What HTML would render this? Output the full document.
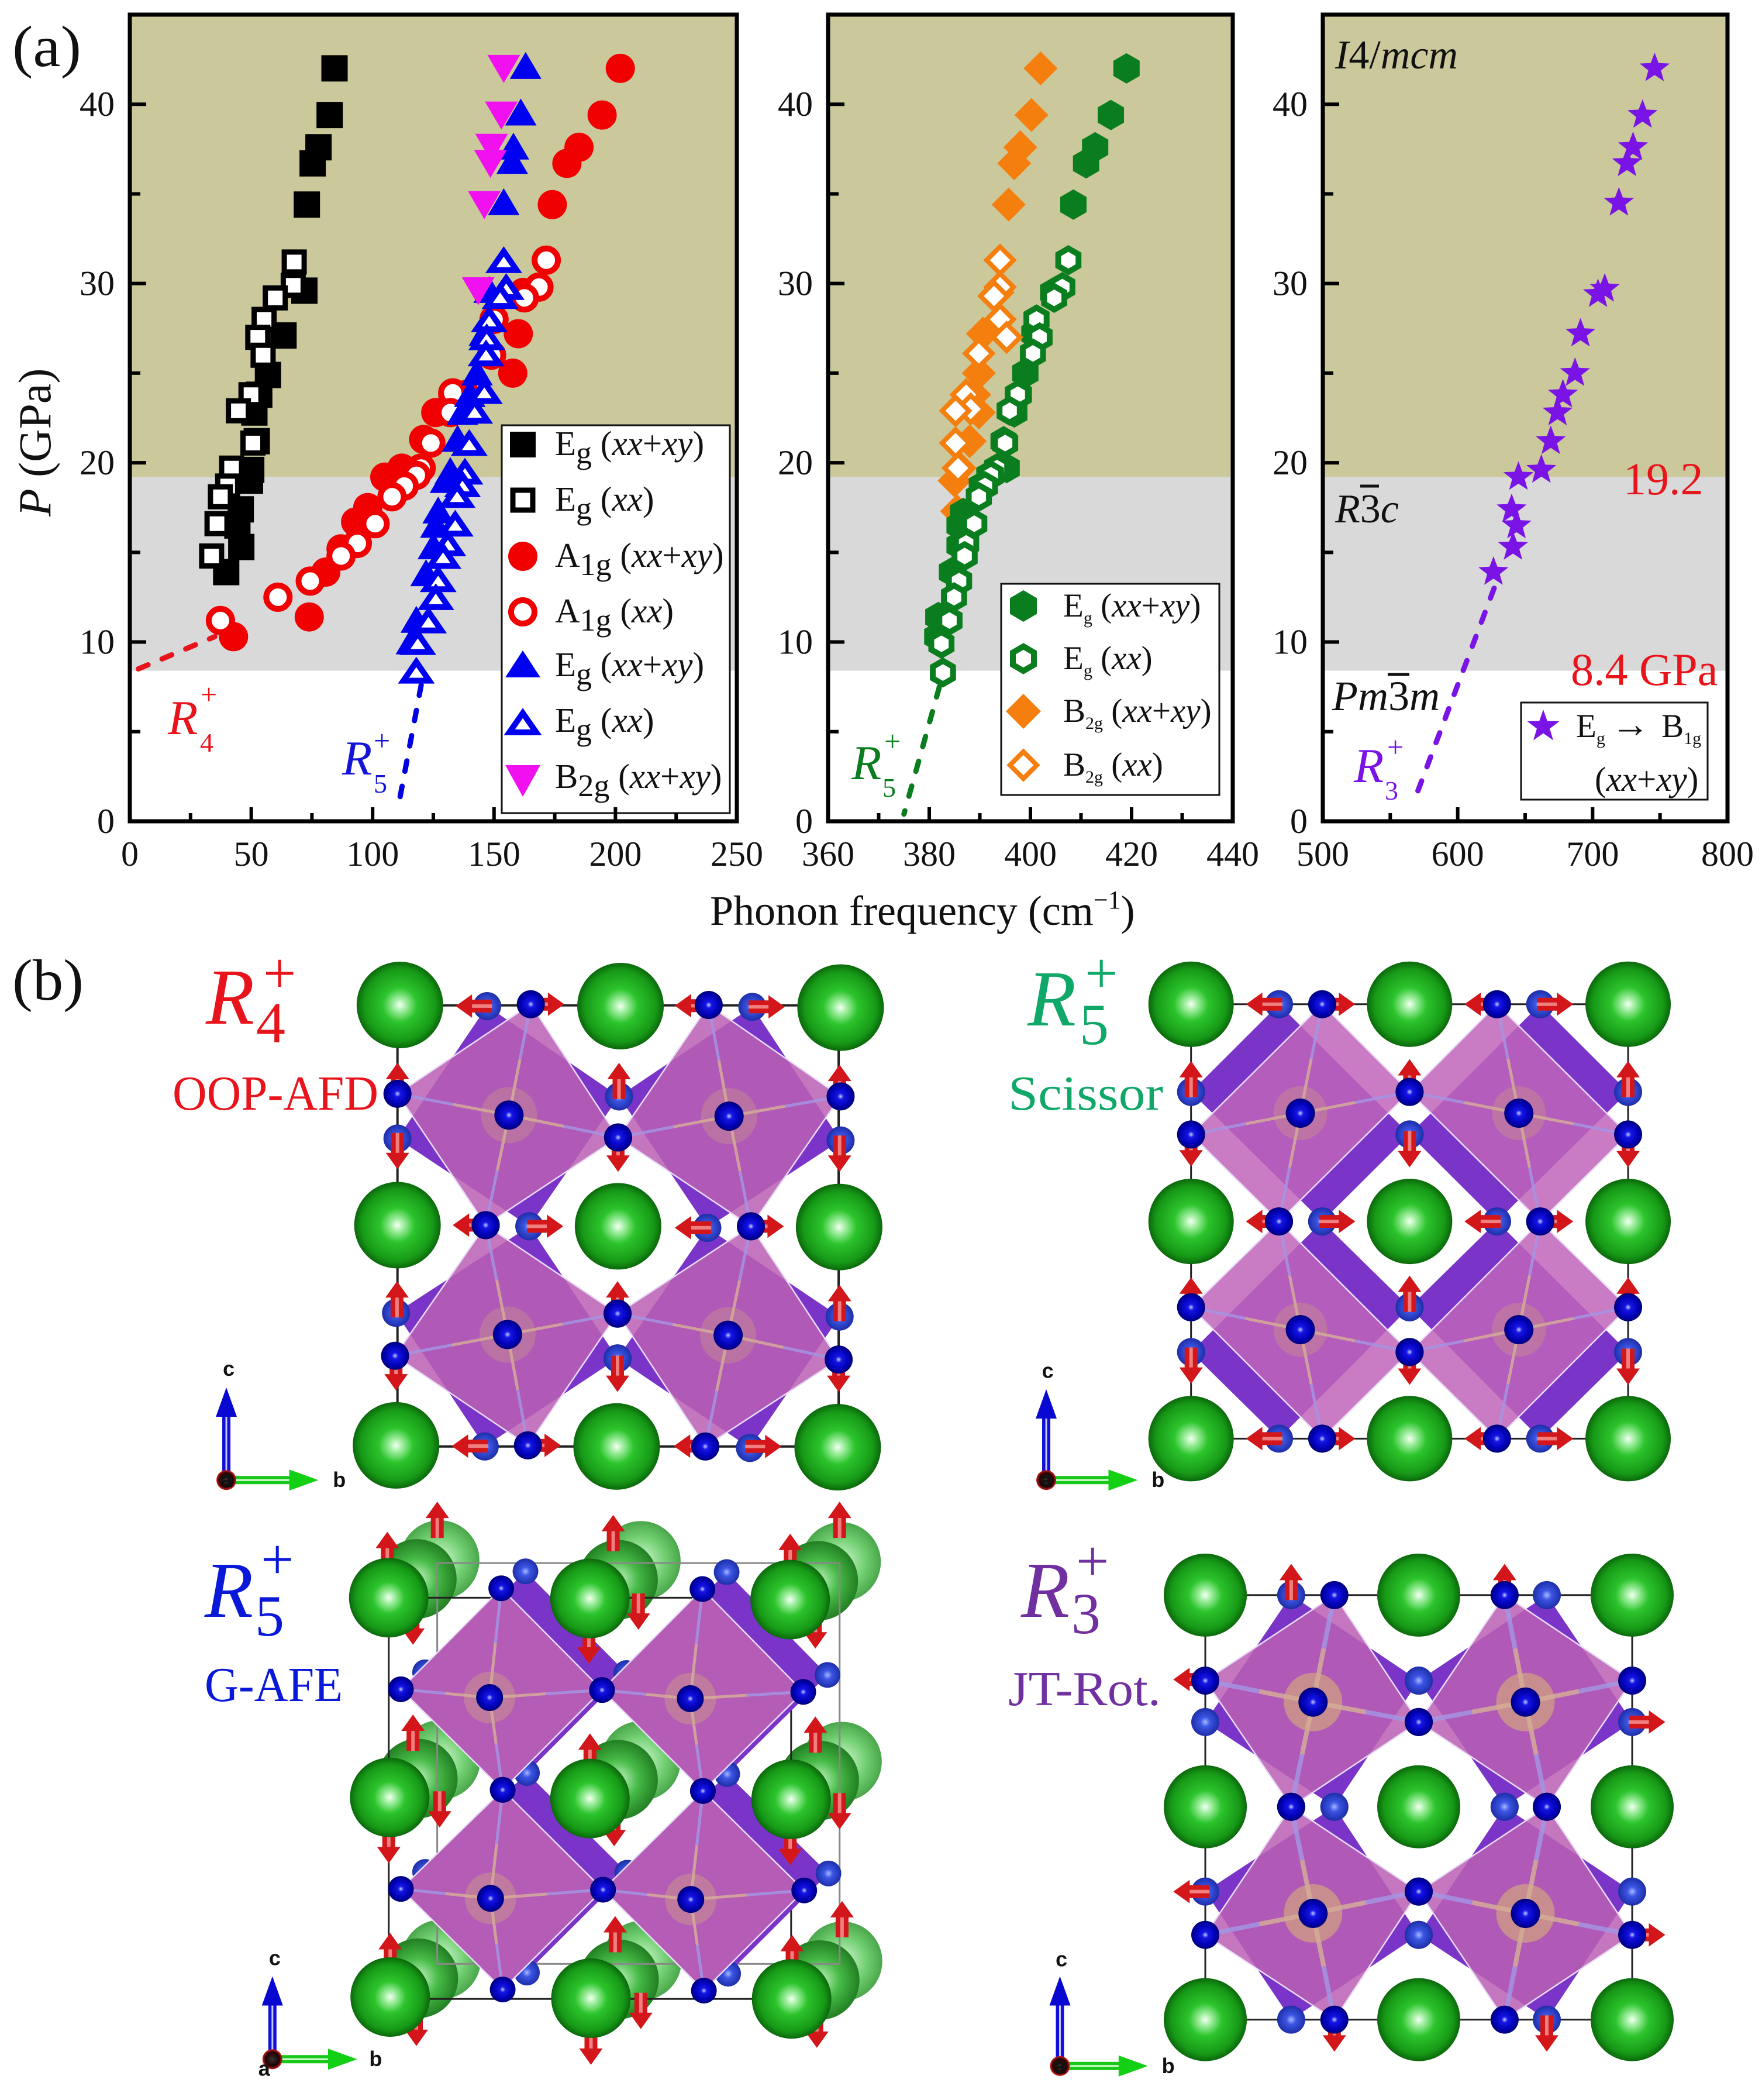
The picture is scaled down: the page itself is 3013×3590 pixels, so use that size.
<!DOCTYPE html>
<html lang="en">
<head>
<meta charset="utf-8">
<title>Phonon frequency vs pressure and lattice distortion modes</title>
<style>
html,body{margin:0;padding:0;background:#fff;width:3013px;height:3590px;overflow:hidden}
svg{display:block}
text{font-family:"Liberation Serif","DejaVu Serif",serif}
.tick{font-size:60px;fill:#111}
.leg{font-size:59px;fill:#111}
.leg2{font-size:57px;fill:#111}
.it{font-style:italic}
.sans{font-family:"Liberation Sans",sans-serif;font-weight:bold;font-size:36px;fill:#111}
</style>
</head>
<body>
<svg id="root" width="3013" height="3590" viewBox="0 0 3013 3590">
<defs>
<radialGradient id="gGreen"><stop offset="0" stop-color="#f6fff6"/><stop offset=".14" stop-color="#a4f0a4"/><stop offset=".4" stop-color="#2cc42c"/><stop offset=".82" stop-color="#179a17"/><stop offset="1" stop-color="#0b680b"/></radialGradient>
<radialGradient id="gGreenMid"><stop offset="0" stop-color="#c8f5c8"/><stop offset=".5" stop-color="#47bb47"/><stop offset="1" stop-color="#227f22"/></radialGradient>
<radialGradient id="gGreenBack"><stop offset="0" stop-color="#d8f8d8"/><stop offset=".6" stop-color="#72d072"/><stop offset="1" stop-color="#4aa64a"/></radialGradient>
<radialGradient id="gBlue"><stop offset="0" stop-color="#c0ccff"/><stop offset=".22" stop-color="#1515e6"/><stop offset=".72" stop-color="#0000b4"/><stop offset="1" stop-color="#000078"/></radialGradient>
<radialGradient id="gBlueLight"><stop offset="0" stop-color="#a8b8ff"/><stop offset=".35" stop-color="#3b55e4"/><stop offset="1" stop-color="#1e2ea8"/></radialGradient>
<radialGradient id="gRed"><stop offset="0" stop-color="#333"/><stop offset=".7" stop-color="#200"/><stop offset="1" stop-color="#d02020"/></radialGradient>
</defs>

<!-- PANEL (a) layers -->
<g id="p1bands"></g>
<g id="p2bands"></g>
<g id="p3bands"></g>
<g id="p1marks"></g>
<g id="p2marks"></g>
<g id="p3marks"></g>

<!-- Legend panel 1 -->
<g>
<rect x="858" y="727" width="390" height="663" fill="#fff" stroke="#111" stroke-width="3"/>
<g>
<rect x="872" y="738" width="44" height="44" fill="#000"/>
<text class="leg" x="949" y="778">E<tspan font-size="54" dy="14">g</tspan><tspan dy="-14"> (</tspan><tspan class="it">xx</tspan>+<tspan class="it">xy</tspan>)</text></g>
<g>
<rect x="877" y="838" width="34" height="34" fill="#fff" stroke="#000" stroke-width="9"/>
<text class="leg" x="949" y="873">E<tspan font-size="54" dy="14">g</tspan><tspan dy="-14"> (</tspan><tspan class="it">xx</tspan>)</text></g>
<g>
<circle cx="894" cy="951" r="25" fill="#f00000"/>
<text class="leg" x="949" y="969">A<tspan font-size="54" dy="14">1g</tspan><tspan dy="-14"> (</tspan><tspan class="it">xx</tspan>+<tspan class="it">xy</tspan>)</text></g>
<g>
<circle cx="894" cy="1046" r="20" fill="#fff" stroke="#f00000" stroke-width="10"/>
<text class="leg" x="949" y="1064">A<tspan font-size="54" dy="14">1g</tspan><tspan dy="-14"> (</tspan><tspan class="it">xx</tspan>)</text></g>
<g>
<path d="M894 1112L924 1158H864Z" fill="#0000f0"/>
<text class="leg" x="949" y="1156">E<tspan font-size="54" dy="14">g</tspan><tspan dy="-14"> (</tspan><tspan class="it">xx</tspan>+<tspan class="it">xy</tspan>)</text></g>
<g>
<path d="M894 1219L917 1252H871Z" fill="#fff" stroke="#0000f0" stroke-width="10"/>
<text class="leg" x="949" y="1251">E<tspan font-size="54" dy="14">g</tspan><tspan dy="-14"> (</tspan><tspan class="it">xx</tspan>)</text></g>
<g>
<path d="M864 1308H924L894 1362Z" fill="#f010f0"/>
<text class="leg" x="949" y="1347">B<tspan font-size="54" dy="14">2g</tspan><tspan dy="-14"> (</tspan><tspan class="it">xx</tspan>+<tspan class="it">xy</tspan>)</text></g>
</g>

<!-- Legend panel 2 -->
<g>
<rect x="1712" y="998" width="373" height="361" fill="#fff" stroke="#111" stroke-width="3"/>
<g>
<path d="M1750 1009L1773 1022.500L1773 1049.500L1750 1063L1727 1049.500L1727 1022.500Z" fill="#0a7d1e"/>
<text class="leg2" x="1818" y="1054">E<tspan font-size="30" dy="12">g</tspan><tspan dy="-12"> (</tspan><tspan class="it">xx</tspan>+<tspan class="it">xy</tspan>)</text></g>
<g>
<path d="M1750 1105L1768 1115.500L1768 1136.500L1750 1147L1732 1136.500L1732 1115.500Z" fill="#fff" stroke="#0a7d1e" stroke-width="10"/>
<text class="leg2" x="1818" y="1144">E<tspan font-size="30" dy="12">g</tspan><tspan dy="-12"> (</tspan><tspan class="it">xx</tspan>)</text></g>
<g>
<path d="M1750 1186L1780 1216L1750 1246L1720 1216Z" fill="#f57f0e"/>
<text class="leg2" x="1818" y="1234">B<tspan font-size="30" dy="12">2g</tspan><tspan dy="-12"> (</tspan><tspan class="it">xx</tspan>+<tspan class="it">xy</tspan>)</text></g>
<g>
<path d="M1750 1285L1773 1308L1750 1331L1727 1308Z" fill="#fff" stroke="#f57f0e" stroke-width="8"/>
<text class="leg2" x="1818" y="1326">B<tspan font-size="30" dy="12">2g</tspan><tspan dy="-12"> (</tspan><tspan class="it">xx</tspan>)</text></g>
</g>

<!-- Legend panel 3 -->
<g>
<rect x="2601" y="1201" width="319" height="166" fill="#fff" stroke="#111" stroke-width="3"/>
<path d="M2639 1213L2645.800 1232.600L2666.600 1233L2650 1245.600L2656 1265.500L2639 1253.600L2622 1265.500L2628 1245.600L2611.400 1233L2632.200 1232.600Z" fill="#7a14e6"/>
<text class="leg2" x="2695" y="1260">E<tspan font-size="30" dy="12">g</tspan><tspan dy="-12" dx="10" font-size="66">→</tspan><tspan dx="6"> B</tspan><tspan font-size="30" dy="12">1g</tspan></text>
<text class="leg2" x="2727" y="1352" style="font-size:59px">(<tspan class="it">xx</tspan>+<tspan class="it">xy</tspan>)</text>
</g>

<g id="p1axis"></g>
<g id="p2axis"></g>
<g id="p3axis"></g>

<!-- Titles and annotations -->
<text x="21" y="113" font-size="100" fill="#111" textLength="118" lengthAdjust="spacingAndGlyphs">(a)</text>
<text x="21" y="1709" font-size="100" fill="#111" textLength="122" lengthAdjust="spacingAndGlyphs">(b)</text>
<text transform="translate(86,883) rotate(-90)" font-size="78" fill="#111"><tspan class="it">P</tspan> (GPa)</text>
<text x="1214" y="1581" font-size="72" fill="#111">Phonon frequency (cm<tspan font-size="44" dy="-28">−1</tspan><tspan dy="28">)</tspan></text>

<g fill="#e8141c">
<text x="287" y="1255" font-size="84" class="it">R</text><text x="343" y="1204" font-size="50">+</text><text x="342" y="1285" font-size="46">4</text></g>
<g fill="#1414d8">
<text x="585" y="1324" font-size="84" class="it">R</text><text x="639" y="1283" font-size="50">+</text><text x="639" y="1355" font-size="46">5</text></g>
<g fill="#0a7d1e">
<text x="1456" y="1332" font-size="84" class="it">R</text><text x="1512" y="1284" font-size="50">+</text><text x="1509" y="1362" font-size="46">5</text></g>
<g fill="#7a14e6">
<text x="2315" y="1337" font-size="84" class="it">R</text><text x="2372" y="1294" font-size="50">+</text><text x="2368" y="1367" font-size="46">3</text></g>

<text x="2283" y="117" font-size="70" fill="#111"><tspan class="it">I</tspan>4/<tspan class="it">mcm</tspan></text>
<g>
<text x="2283" y="893" font-size="70" fill="#111"><tspan class="it">R</tspan>3<tspan class="it">c</tspan></text>
<line x1="2326" x2="2358" y1="831" y2="831" stroke="#111" stroke-width="5"/></g>
<g>
<text x="2278" y="1214" font-size="72" fill="#111"><tspan class="it">Pm</tspan>3<tspan class="it">m</tspan></text>
<line x1="2373" x2="2410" y1="1153" y2="1153" stroke="#111" stroke-width="5"/></g>
<text x="2776" y="845" font-size="78" fill="#e8141c">19.2</text>
<text x="2686" y="1171" font-size="78" fill="#e8141c">8.4 GPa</text>

<!-- PANEL (b) crystals -->
<g id="crystalA"></g>
<g id="crystalB"></g>
<g id="crystalC"></g>
<g id="crystalD"></g>

<g fill="#e8141c">
<text x="352" y="1750" font-size="136" class="it" textLength="80">R</text><text x="450" y="1697" font-size="100">+</text><text x="438" y="1782" font-size="100">4</text></g>
<text x="295" y="1897" font-size="84" fill="#e8141c" textLength="352" lengthAdjust="spacingAndGlyphs">OOP-AFD</text>
<g fill="#10a868">
<text x="1757" y="1753" font-size="136" class="it" textLength="80">R</text><text x="1855" y="1697" font-size="100">+</text><text x="1846" y="1785" font-size="100">5</text></g>
<text x="1724" y="1897" font-size="84" fill="#10a868" textLength="265" lengthAdjust="spacingAndGlyphs">Scissor</text>
<g fill="#0a18d8">
<text x="350" y="2764" font-size="136" class="it" textLength="80">R</text><text x="446" y="2699" font-size="100">+</text><text x="436" y="2796" font-size="100">5</text></g>
<text x="350" y="2908" font-size="84" fill="#0a18d8" textLength="236" lengthAdjust="spacingAndGlyphs">G-AFE</text>
<g fill="#7030a0">
<text x="1746" y="2764" font-size="136" class="it" textLength="80">R</text><text x="1840" y="2702" font-size="100">+</text><text x="1832" y="2792" font-size="100">3</text></g>
<text x="1724" y="2915" font-size="84" fill="#7030a0" textLength="261" lengthAdjust="spacingAndGlyphs">JT-Rot.</text>
</svg>

<script>
/* ---------- chart data ---------- */
const yMajorTicks = [0, 10, 20, 30, 40];
const yMinorTicks = [5, 15, 25, 35];
const p1MajorTicks = [0, 50, 100, 150, 200, 250];
const p1MinorTicks = [25, 75, 125, 175, 225];
const p2MajorTicks = [360, 380, 400, 420, 440];
const p2MinorTicks = [370, 390, 410, 430];
const p3MajorTicks = [500, 600, 700, 800];
const p3MinorTicks = [550, 650, 750];
const phaseBoundaries = [19.2, 8.4];

const egBlackSolidFreq = [84.3, 82.3, 77.7, 75.3, 72.9, 71.9, 63.3, 56.9, 53.3, 51.3, 52.3, 50, 49.5, 45.7, 44.3, 45.9, 39.7];
const egBlackSolidP = [42, 39.4, 37.6, 36.7, 34.4, 29.6, 27.1, 24.9, 23.8, 22.8, 21.2, 19.6, 19, 17.4, 16.5, 15.3, 13.9];
const egBlackOpenFreq = [67.7, 67.3, 59.9, 55.3, 52.7, 54.9, 49.9, 44.7, 50.7, 41.9, 40.3, 37.3, 35.9, 33.7];
const egBlackOpenP = [31.2, 29.9, 29.2, 28, 27, 26, 23.8, 22.9, 21.1, 19.7, 18.7, 18.1, 16.6, 14.8];

const a1gSolidFreq = [202, 194.5, 185, 180, 174, 162, 160, 157.7, 133, 126, 121, 112, 105, 98, 93, 87, 80.7, 73.9, 42.7];
const a1gSolidP = [42, 39.4, 37.6, 36.7, 34.4, 29.5, 27.2, 25, 23.8, 22.8, 21.3, 19.7, 19.2, 17.5, 16.7, 15.2, 13.9, 11.4, 10.3];
const a1gOpenFreq = [171.5, 168.5, 162.5, 150, 149, 138, 133, 132, 124, 120, 118, 113, 108, 101, 93.7, 87, 74.3, 61, 37.3];
const a1gOpenP = [31.3, 29.8, 29.2, 28, 26, 23.8, 23.9, 22.8, 21.1, 19.7, 19.3, 18.7, 18.1, 16.6, 15.5, 14.8, 13.4, 12.5, 11.2];

const egBlueSolidFreq = [163, 161, 158, 157.5, 154, 148, 146, 143, 140, 137, 135, 132, 130, 127, 126, 125, 122, 118, 116];
const egBlueSolidP = [42.1, 39.5, 37.6, 36.8, 34.5, 29.6, 27.2, 25, 23.8, 22.8, 21.3, 19.5, 19, 17.3, 16.5, 15.3, 13.8, 11.2, 10];
const egBlueOpenFreq = [154, 155, 152.5, 148, 147, 146.7, 146, 142, 139.8, 138, 137, 134.8, 134, 131, 129, 127, 126, 123, 118.6, 118];
const egBlueOpenP = [31.3, 29.8, 29.3, 28, 27, 26.1, 24, 22.9, 21.1, 19.5, 18.8, 18.2, 16.6, 15.5, 14.8, 13.5, 12.5, 11.2, 10, 8.4];
const b2gMagentaFreq = [154, 153, 149, 148.5, 146, 143.5];
const b2gMagentaP = [42, 39.4, 37.6, 36.7, 34.4, 29.6];

const egGreenSolidFreq = [419, 415.9, 412.8, 411, 408.5, 404.5, 400.8, 399, 397.7, 396.8, 394.7, 395.3, 391.9, 390.4, 386.7, 386, 386, 384.5, 381.8, 381.6];
const egGreenSolidP = [42, 39.4, 37.6, 36.7, 34.4, 29.5, 27.2, 25, 23.8, 22.8, 21.2, 19.7, 19.3, 18.7, 17.2, 16.5, 15.4, 13.9, 11.4, 10.3];
const egGreenOpenFreq = [407.5, 406.3, 404.7, 401.2, 401.8, 400.5, 397.5, 395.9, 395, 393.4, 392.2, 391, 389.8, 388.9, 387.3, 387, 385.9, 384.9, 384, 382.4, 382.7];
const egGreenOpenP = [31.3, 29.8, 29.2, 28, 27, 26.1, 23.8, 22.9, 21.1, 19.7, 19.3, 18.7, 18.1, 16.6, 15.5, 14.8, 13.4, 12.5, 11.2, 9.9, 8.3];
const b2gOrangeSolidFreq = [402, 400.2, 398, 396.8, 395.7, 393.5, 390.6, 389.8, 388.9, 389.8, 388, 386, 385, 385.5];
const b2gOrangeSolidP = [42, 39.4, 37.6, 36.7, 34.4, 29.5, 27.2, 25, 23.8, 22.8, 21.2, 19.7, 19, 17.3];
const b2gOrangeOpenFreq = [394, 394, 392.8, 394, 395.3, 389.8, 387.3, 388.2, 385.2, 385.2, 385.7];
const b2gOrangeOpenP = [31.3, 29.8, 29.3, 28, 27, 26.1, 23.8, 23, 22.9, 21.1, 19.7];

const starFreq = [746, 737, 730, 725.5, 719.5, 709, 704, 691, 687, 678, 674, 669, 662, 645, 640, 643.6, 641, 626.5];
const starP = [42, 39.4, 37.6, 36.7, 34.5, 29.7, 29.4, 27.2, 25, 23.8, 22.8, 21.2, 19.6, 19.2, 17.4, 16.5, 15.3, 13.9];

const r4DashFreq = [3.5, 35];
const r4DashP = [8.5, 10.3];
const r5BlueDashFreq = [120, 110.8];
const r5BlueDashP = [7.6, 1];
const r5GreenDashFreq = [382, 375];
const r5GreenDashP = [7.5, 0.4];
const r3DashFreq = [627, 567];
const r3DashP = [13, 1];

/* ---------- axis functions ---------- */
const root = document.getElementById('root');
const NS = root.namespaceURI;
const plotTop = 25, plotBottom = 1404, yMax = 45;
function yScale(p) { return plotBottom - (plotBottom - plotTop) * p / yMax; }
function x1(v) { return 222 + (1260 - 222) * (v - 0) / 250; }
function x2(v) { return 1416 + (2108 - 1416) * (v - 360) / 80; }
function x3(v) { return 2262 + (2954 - 2262) * (v - 500) / 300; }

/* marker shapes, centred on the origin */
function hexPath(r) {
  let d = '';
  for (let i = 0; i < 6; i++) {
    const a = Math.PI / 3 * i;
    d += (i ? 'L' : 'M') + (r * Math.sin(a)).toFixed(1) + ' ' + (-r * Math.cos(a)).toFixed(1);
  }
  return d + 'Z';
}
function starPath(R) {
  let d = '';
  for (let i = 0; i < 10; i++) {
    const a = Math.PI / 5 * i;
    const r = i % 2 ? R * 0.42 : R;
    d += (i ? 'L' : 'M') + (r * Math.sin(a)).toFixed(1) + ' ' + (-r * Math.cos(a)).toFixed(1);
  }
  return d + 'Z';
}
const shapes = {
  squareSolid: 'M-22.500 -22.500H22.500V22.500H-22.500Z',
  squareOpen: 'M-17 -17H17V17H-17Z',
  circleSolid: 'M-25 0A25 25 0 1 0 25 0A25 25 0 1 0 -25 0Z',
  circleOpen: 'M-20 0A20 20 0 1 0 20 0A20 20 0 1 0 -20 0Z',
  triSolid: 'M0 -25L27 21H-27Z',
  triOpen: 'M0 -15L22 17H-22Z',
  triDown: 'M-28 -23H28L0 25Z',
  hexSolid: hexPath(26),
  hexOpen: hexPath(20),
  diaSolid: 'M0 -29L29 0L0 29L-29 0Z',
  diaOpen: 'M0 -23L23 0L0 23L-23 0Z',
  star: starPath(27)
};

function drawSeries(parentId, name, freqs, ps, xfn, shape, fill, stroke, sw) {
  const parent = document.getElementById(parentId);
  for (let i = 0; i < freqs.length; i++) {
    const el = document.createElementNS(NS, 'path');
    el.setAttribute('d', shapes[shape]);
    el.setAttribute('transform', 'translate(' + xfn(freqs[i]).toFixed(1) + ',' + yScale(ps[i]).toFixed(1) + ')');
    el.setAttribute('fill', fill);
    if (stroke) {
      el.setAttribute('stroke', stroke);
      el.setAttribute('stroke-width', sw);
      el.setAttribute('stroke-linejoin', 'miter');
    }
    
    
    parent.appendChild(el);
  }
}
function drawDash(parentId, name, freqs, ps, xfn, color) {
  const parent = document.getElementById(parentId);
  const el = document.createElementNS(NS, 'line');
  el.setAttribute('x1', xfn(freqs[0]));
  el.setAttribute('y1', yScale(ps[0]));
  el.setAttribute('x2', xfn(freqs[1]));
  el.setAttribute('y2', yScale(ps[1]));
  el.setAttribute('stroke', color);
  el.setAttribute('stroke-width', 9);
  el.setAttribute('stroke-dasharray', '18 26');
  el.setAttribute('stroke-linecap', 'round');
  
  
  parent.appendChild(el);
}
function drawBands(parentId, left, right) {
  const parent = document.getElementById(parentId);
  const olive = document.createElementNS(NS, 'rect');
  olive.setAttribute('x', left);
  olive.setAttribute('y', plotTop);
  olive.setAttribute('width', right - left);
  olive.setAttribute('height', yScale(phaseBoundaries[0]) - plotTop);
  olive.setAttribute('fill', '#cbc99b');
  
  
  parent.appendChild(olive);
  const grey = document.createElementNS(NS, 'rect');
  grey.setAttribute('x', left);
  grey.setAttribute('y', yScale(phaseBoundaries[0]));
  grey.setAttribute('width', right - left);
  grey.setAttribute('height', yScale(phaseBoundaries[1]) - yScale(phaseBoundaries[0]));
  grey.setAttribute('fill', '#d9d9d9');
  
  
  parent.appendChild(grey);
}
function drawAxes(parentId, left, right, xfn, major, minor) {
  const parent = document.getElementById(parentId);
  function tick(x1_, y1_, x2_, y2_) {
    const t = document.createElementNS(NS, 'line');
    t.setAttribute('x1', x1_);
    t.setAttribute('y1', y1_);
    t.setAttribute('x2', x2_);
    t.setAttribute('y2', y2_);
    t.setAttribute('stroke', '#000');
    t.setAttribute('stroke-width', 6);
    
    
    parent.appendChild(t);
  }
  function label(x, y, str, anchor) {
    const t = document.createElementNS(NS, 'text');
    t.setAttribute('x', x);
    t.setAttribute('y', y);
    t.setAttribute('class', 'tick');
    t.setAttribute('text-anchor', anchor);
    
    
    t.textContent = str;
    parent.appendChild(t);
  }
  yMajorTicks.forEach(function (v) {
    tick(left, yScale(v), left + 28, yScale(v));
    label(left - 26, yScale(v) + 20, String(v), 'end');
  });
  yMinorTicks.forEach(function (v) { tick(left, yScale(v), left + 18, yScale(v)); });
  major.forEach(function (v) {
    tick(xfn(v), plotBottom, xfn(v), plotBottom - 24);
    label(xfn(v), 1480, String(v), 'middle');
  });
  minor.forEach(function (v) { tick(xfn(v), plotBottom, xfn(v), plotBottom - 14); });
  const frame = document.createElementNS(NS, 'rect');
  frame.setAttribute('x', left);
  frame.setAttribute('y', plotTop);
  frame.setAttribute('width', right - left);
  frame.setAttribute('height', plotBottom - plotTop);
  frame.setAttribute('fill', 'none');
  frame.setAttribute('stroke', '#000');
  frame.setAttribute('stroke-width', 7);
  
  
  parent.appendChild(frame);
}

drawBands('p1bands', 222, 1260);
drawBands('p2bands', 1416, 2108);
drawBands('p3bands', 2262, 2954);

drawDash('p1marks', 'r4-dashed-guide', r4DashFreq, r4DashP, x1, '#e8141c');
drawDash('p1marks', 'r5-blue-dashed-guide', r5BlueDashFreq, r5BlueDashP, x1, '#0000e0');
drawDash('p2marks', 'r5-green-dashed-guide', r5GreenDashFreq, r5GreenDashP, x2, '#0a7d1e');
drawDash('p3marks', 'r3-dashed-guide', r3DashFreq, r3DashP, x3, '#7a14e6');

drawSeries('p1marks', 'eg-black-xx-xy', egBlackSolidFreq, egBlackSolidP, x1, 'squareSolid', '#000');
drawSeries('p1marks', 'eg-black-xx', egBlackOpenFreq, egBlackOpenP, x1, 'squareOpen', '#fff', '#000', 9);
drawSeries('p1marks', 'a1g-xx-xy', a1gSolidFreq, a1gSolidP, x1, 'circleSolid', '#f00000');
drawSeries('p1marks', 'a1g-xx', a1gOpenFreq, a1gOpenP, x1, 'circleOpen', '#fff', '#f00000', 10);
drawSeries('p1marks', 'eg-blue-xx-xy', egBlueSolidFreq, egBlueSolidP, x1, 'triSolid', '#0000f0');
drawSeries('p1marks', 'b2g-magenta-xx-xy', b2gMagentaFreq, b2gMagentaP, x1, 'triDown', '#f010f0');
drawSeries('p1marks', 'eg-blue-xx', egBlueOpenFreq, egBlueOpenP, x1, 'triOpen', '#fff', '#0000f0', 10);

drawSeries('p2marks', 'b2g-orange-xx-xy', b2gOrangeSolidFreq, b2gOrangeSolidP, x2, 'diaSolid', '#f57f0e');
drawSeries('p2marks', 'eg-green-xx-xy', egGreenSolidFreq, egGreenSolidP, x2, 'hexSolid', '#0a7d1e');
drawSeries('p2marks', 'eg-green-xx', egGreenOpenFreq, egGreenOpenP, x2, 'hexOpen', '#fff', '#0a7d1e', 10);
drawSeries('p2marks', 'b2g-orange-xx', b2gOrangeOpenFreq, b2gOrangeOpenP, x2, 'diaOpen', '#fff', '#f57f0e', 8);

drawSeries('p3marks', 'eg-to-b1g-star', starFreq, starP, x3, 'star', '#7a14e6');

drawAxes('p1axis', 222, 1260, x1, p1MajorTicks, p1MinorTicks);
drawAxes('p2axis', 1416, 2108, x2, p2MajorTicks, p2MinorTicks);
drawAxes('p3axis', 2262, 2954, x3, p3MajorTicks, p3MinorTicks);

/* ---------- crystal structure drawings ---------- */
function buildCrystal(cfg) {
  const host = document.getElementById(cfg.id);
  const X = function (v) { return cfg.ox + cfg.sx * v; };
  const Y = function (v) { return cfg.oy + cfg.sy * v; };
  const pts = function (list) { return list.map(function (p) { return X(p[0]).toFixed(1) + ',' + Y(p[1]).toFixed(1); }).join(' '); };

  function atom(p, r, grad, opacity) {
    const el = document.createElementNS(NS, 'circle');
    el.setAttribute('cx', X(p[0]));
    el.setAttribute('cy', Y(p[1]));
    el.setAttribute('r', r);
    el.setAttribute('fill', 'url(#' + grad + ')');
    if (opacity) el.setAttribute('opacity', opacity);
    
    
    host.appendChild(el);
  }
  function cell(a, b, color, w) {
    const el = document.createElementNS(NS, 'rect');
    el.setAttribute('x', X(a[0]));
    el.setAttribute('y', Y(a[1]));
    el.setAttribute('width', X(b[0]) - X(a[0]));
    el.setAttribute('height', Y(b[1]) - Y(a[1]));
    el.setAttribute('fill', 'none');
    el.setAttribute('stroke', color);
    el.setAttribute('stroke-width', w);
    
    
    host.appendChild(el);
  }
  function octa(list, fill, opacity, edge) {
    const el = document.createElementNS(NS, 'polygon');
    el.setAttribute('points', pts(list));
    el.setAttribute('fill', fill);
    el.setAttribute('fill-opacity', opacity);
    if (edge) {
      el.setAttribute('stroke', '#e8dcf8');
      el.setAttribute('stroke-width', 2.500);
    }
    
    
    host.appendChild(el);
  }
  function bond(c, v, w) {
    const mx = (c[0] + v[0]) / 2, my = (c[1] + v[1]) / 2;
    const outer = document.createElementNS(NS, 'line');
    outer.setAttribute('x1', X(mx));
    outer.setAttribute('y1', Y(my));
    outer.setAttribute('x2', X(v[0]));
    outer.setAttribute('y2', Y(v[1]));
    outer.setAttribute('stroke', '#a594e4');
    outer.setAttribute('stroke-opacity', 0.85);
    outer.setAttribute('stroke-width', w);
    
    
    host.appendChild(outer);
    const inner = document.createElementNS(NS, 'line');
    inner.setAttribute('x1', X(c[0]));
    inner.setAttribute('y1', Y(c[1]));
    inner.setAttribute('x2', X(mx));
    inner.setAttribute('y2', Y(my));
    inner.setAttribute('stroke', '#d4ac98');
    inner.setAttribute('stroke-opacity', 0.85);
    inner.setAttribute('stroke-width', w);
    
    
    host.appendChild(inner);
  }
  function halo(c, r, opacity) {
    const el = document.createElementNS(NS, 'circle');
    el.setAttribute('cx', X(c[0]));
    el.setAttribute('cy', Y(c[1]));
    el.setAttribute('r', r);
    el.setAttribute('fill', '#cf9f82');
    el.setAttribute('opacity', opacity);
    
    
    host.appendChild(el);
  }
  function arrow(p, dir, light) {
    const rot = { u: 0, r: 90, d: 180, l: 270 }[dir];
    const col = light ? '#e24c4c' : '#d2161a';
    const g = document.createElementNS(NS, 'g');
    g.setAttribute('transform', 'translate(' + X(p[0]).toFixed(1) + ',' + Y(p[1]).toFixed(1) + ') rotate(' + rot + ')');
    
    
    const a = document.createElementNS(NS, 'path');
    a.setAttribute('d', 'M0 0L20 28H11V62H-11V28H-20Z');
    a.setAttribute('fill', col);
    g.appendChild(a);
    const s = document.createElementNS(NS, 'rect');
    s.setAttribute('x', -3);
    s.setAttribute('y', 28);
    s.setAttribute('width', 6);
    s.setAttribute('height', 34);
    s.setAttribute('fill', '#f08080');
    g.appendChild(s);
    host.appendChild(g);
  }
  function triad(t) {
    const ox = X(t.o[0]), oy = Y(t.o[1]), ty = Y(t.top), rx = X(t.right);
    const blueAxis = document.createElementNS(NS, 'g');
    
    
    blueAxis.innerHTML = '<rect x="' + (ox - 7) + '" y="' + (ty + 40) + '" width="14" height="' + (oy - ty - 40) + '" fill="#1010d8"/>' +
      '<rect x="' + (ox - 1.500) + '" y="' + (ty + 40) + '" width="3" height="' + (oy - ty - 40) + '" fill="#c8c8ff"/>' +
      '<path d="M' + ox + ' ' + ty + 'L' + (ox + 18) + ' ' + (ty + 50) + 'H' + (ox - 18) + 'Z" fill="#0808d0"/>';
    host.appendChild(blueAxis);
    const greenAxis = document.createElementNS(NS, 'g');
    
    
    greenAxis.innerHTML = '<rect x="' + ox + '" y="' + (oy - 7) + '" width="' + (rx - ox - 40) + '" height="14" fill="#18c818"/>' +
      '<rect x="' + ox + '" y="' + (oy - 1.500) + '" width="' + (rx - ox - 40) + '" height="3" fill="#d8ffd8"/>' +
      '<path d="M' + rx + ' ' + oy + 'L' + (rx - 50) + ' ' + (oy + 18) + 'V' + (oy - 18) + 'Z" fill="#14d014"/>';
    host.appendChild(greenAxis);
    const dot = document.createElementNS(NS, 'circle');
    dot.setAttribute('cx', ox);
    dot.setAttribute('cy', oy);
    dot.setAttribute('r', 17);
    dot.setAttribute('fill', 'url(#gRed)');
    
    
    host.appendChild(dot);
    [['c', t.c], ['b', t.b], ['a', t.a]].forEach(function (e) {
      const tx = document.createElementNS(NS, 'text');
      tx.setAttribute('x', X(e[1][0]));
      tx.setAttribute('y', Y(e[1][1]) + 12);
      tx.setAttribute('text-anchor', 'middle');
      tx.setAttribute('class', 'sans');
      
      
      tx.textContent = e[0];
      host.appendChild(tx);
    });
  }

  /* back green atoms (perspective panel only) */
  (cfg.greenBack || []).forEach(function (p) { atom(p, cfg.greenR, 'gGreenBack'); });
  (cfg.greenMid || []).forEach(function (p) { atom(p, cfg.greenR, 'gGreenMid'); });
  (cfg.cells || []).forEach(function (c) { cell(c[0], c[1], c[2], c[3]); });
  cfg.backOct.forEach(function (o) { octa(o, '#7a35c8', 1, false); });
  cfg.backOct.forEach(function (o) { o.forEach(function (v) { atom(v, cfg.blueR, 'gBlueLight'); }); });
  cfg.arrows.forEach(function (a) { arrow(a[0], a[1], a[2]); });
  cfg.frontOct.forEach(function (o) { octa(o.v, cfg.frontFill, cfg.frontOp, true); });
  cfg.frontOct.forEach(function (o) {
    halo(o.c, cfg.haloR, cfg.haloOp);
    o.v.forEach(function (v) { bond(o.c, v, cfg.bondW); });
  });
  cfg.frontOct.forEach(function (o) {
    o.v.forEach(function (v) { atom(v, cfg.blueR, 'gBlue'); });
    atom(o.c, cfg.blueR + 1, 'gBlue');
  });
  cfg.green.forEach(function (p) { atom(p, cfg.greenR, 'gGreen'); });
  triad(cfg.triad);
}

function hArrows(list, d, light) { return list.map(function (p) { return [p, d, light]; }); }

buildCrystal({
  id: 'crystalA', ox: 300, oy: 1600, sx: 0.829, sy: 0.638, greenR: 74, blueR: 24, haloR: 48, haloOp: 0.35, bondW: 5,
  frontFill: 'rgb(186,95,180)', frontOp: 0.85,
  green: [[463,185],[918,188],[1372,192],[458,775],[913,778],[1369,780],[455,1365],[910,1368],[1366,1370]],
  cells: [[[458,186],[1368,1368],'#222',4]],
  frontOct: [
    {c:[688,480], v:[[733,183],[913,540],[640,775],[458,423]]},
    {c:[1142,483], v:[[1100,185],[1372,430],[1187,778],[913,540]]},
    {c:[685,1068], v:[[640,775],[912,1012],[727,1365],[453,1125]]},
    {c:[1140,1070], v:[[1187,778],[1368,1135],[1093,1368],[912,1012]]}
  ],
  backOct: [
    [[643,188],[915,430],[730,778],[458,543]],
    [[1190,190],[1372,548],[1097,782],[915,430]],
    [[730,778],[912,1132],[638,1368],[455,1010]],
    [[1097,782],[1370,1020],[1185,1372],[912,1132]]
  ],
  arrows: [].concat(
    hArrows([[458,340],[915,340],[1370,345],[457,925],[912,925],[1370,935]], 'u'),
    hArrows([[458,625],[913,632],[1370,632],[455,1218],[912,1222],[1368,1222]], 'd'),
    hArrows([[578,188],[1030,187],[572,775],[1030,782],[570,1367],[1028,1367]], 'l'),
    hArrows([[802,183],[1257,190],[800,778],[1255,778],[795,1365],[1250,1368]], 'r')
  ),
  triad: { o:[105,1458], top:1210, right:295, c:[110,1160], b:[338,1458], a:[105,1458] }
});

buildCrystal({
  id: 'crystalB', ox: 1650, oy: 1600, sx: 0.869, sy: 0.638, greenR: 73, blueR: 24, haloR: 46, haloOp: 0.35, bondW: 5,
  frontFill: 'rgb(192,100,186)', frontOp: 0.85,
  green: [[445,183],[875,183],[1305,183],[445,765],[875,765],[1305,765],[445,1347],[875,1347],[1305,1347]],
  cells: [[[445,183],[1305,1347],'#222',3]],
  frontOct: [
    {c:[660,475], v:[[703,183],[875,418],[618,765],[445,532]]},
    {c:[1090,475], v:[[1047,183],[1305,532],[1132,765],[875,418]]},
    {c:[660,1055], v:[[618,765],[875,1115],[703,1347],[445,995]]},
    {c:[1090,1055], v:[[1132,765],[1305,995],[1047,1347],[875,1115]]}
  ],
  backOct: [
    [[618,183],[875,532],[703,765],[445,418]],
    [[1132,183],[1305,418],[1047,765],[875,532]],
    [[703,765],[875,995],[618,1347],[445,1115]],
    [[1047,765],[1305,1115],[1132,1347],[875,995]]
  ],
  arrows: [].concat(
    hArrows([[445,335],[875,330],[1305,335],[445,915],[875,910],[1305,915]], 'u'),
    hArrows([[445,618],[875,620],[1305,620],[445,1200],[875,1203],[1305,1203]], 'd'),
    hArrows([[553,183],[983,183],[553,765],[983,765],[553,1347],[983,1347]], 'l'),
    hArrows([[768,183],[1197,183],[768,765],[1197,765],[768,1347],[1197,1347]], 'r')
  ),
  triad: { o:[160,1458], top:1215, right:340, c:[163,1165], b:[380,1458], a:[160,1458] }
});

const frontC = [
  {c:[648,500], v:[[672,210],[880,480],[675,745],[465,478]]},
  {c:[1062,503], v:[[1087,212],[1295,485],[1088,748],[880,480]]},
  {c:[650,1033], v:[[675,745],[882,1010],[675,1275],[465,1008]]},
  {c:[1063,1036], v:[[1088,748],[1297,1012],[1090,1278],[882,1010]]}
];
const greenFrontC = [[440,235],[855,237],[1268,240],[442,765],[855,768],[1270,770],[443,1295],[857,1298],[1271,1300]];
buildCrystal({
  id: 'crystalC', ox: 300, oy: 2580, sx: 0.829, sy: 0.644, greenR: 68, blueR: 22, haloR: 44, haloOp: 0.45, bondW: 5,
  frontFill: 'rgb(180,92,182)', frontOp: 1,
  green: greenFrontC,
  greenMid: greenFrontC.map(function (p) { return [p[0] + 58, p[1] - 50]; }),
  greenBack: greenFrontC.map(function (p) { return [p[0] + 105, p[1] - 100]; }),
  cells: [[[540,143],[1370,1207],'#888',3],[[440,235],[1270,1300],'#222',3]],
  frontOct: frontC,
  backOct: frontC.map(function (o) { return o.v.map(function (v) { return [v[0] + 50, v[1] - 45]; }); }),
  arrows: [].concat(
    hArrows([[437,60],[903,15],[1268,65],[490,545],[855,595],[1320,550],[443,1125],[907,1080],[1272,1130],[1375,1040],[540,-20],[1370,-20]], 'u'),
    hArrows([[490,360],[853,410],[955,320],[1320,370],[440,940],[545,845],[905,895],[1268,945],[1370,850],[497,1425],[857,1475],[960,1380],[1323,1430]], 'd')
  ),
  triad: { o:[200,1460], top:1240, right:375, c:[205,1192], b:[413,1460], a:[183,1485] }
});

buildCrystal({
  id: 'crystalD', ox: 1650, oy: 2580, sx: 0.869, sy: 0.644, greenR: 71, blueR: 24, haloR: 50, haloOp: 0.75, bondW: 8,
  frontFill: 'rgb(186,95,180)', frontOp: 0.85,
  green: [[473,228],[893,228],[1313,228],[473,790],[893,790],[1313,790],[473,1355],[893,1355],[1313,1355]],
  cells: [[[473,228],[1313,1355],'#222',3]],
  frontOct: [
    {c:[685,512], v:[[727,228],[893,565],[642,790],[473,455]]},
    {c:[1103,512], v:[[1062,228],[1313,455],[1145,790],[893,565]]},
    {c:[685,1073], v:[[642,790],[893,1015],[727,1355],[473,1130]]},
    {c:[1103,1073], v:[[1145,790],[1313,1130],[1062,1355],[893,1015]]}
  ],
  backOct: [
    [[642,228],[893,455],[727,790],[473,565]],
    [[1145,228],[1313,565],[1062,790],[893,455]],
    [[727,790],[893,1130],[642,1355],[473,1015]],
    [[1062,790],[1313,1015],[1145,1355],[893,1130]]
  ],
  arrows: [].concat(
    hArrows([[642,145],[1062,145]], 'u'),
    hArrows([[410,452],[410,1015]], 'l'),
    hArrows([[1378,565],[1378,1130]], 'r'),
    hArrows([[727,1440],[1145,1440]], 'd')
  ),
  triad: { o:[187,1478], top:1240, right:360, c:[190,1195], b:[400,1478], a:[187,1478] }
});
</script>
</body>
</html>
